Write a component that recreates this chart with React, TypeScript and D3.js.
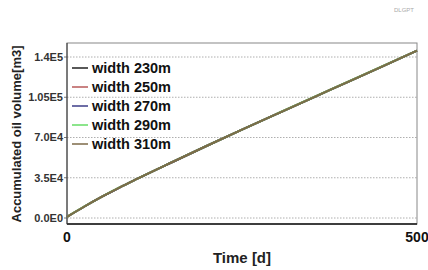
import React from 'react';
import * as d3 from 'd3';

const TIME = [0, 25, 50, 75, 100, 150, 200, 250, 300, 350, 400, 450, 500];
const W230 = [1000, 10000, 18500, 26500, 34000, 48500, 62800, 76800, 90600, 104300, 118000, 131700, 145500];
const W250 = [1000, 10050, 18550, 26550, 34050, 48550, 62850, 76850, 90650, 104350, 118050, 131750, 145550];
const W270 = [1000, 10000, 18500, 26500, 34000, 48500, 62800, 76800, 90600, 104300, 118000, 131700, 145500];
const W290 = [1000, 10050, 18550, 26550, 34050, 48550, 62850, 76850, 90650, 104350, 118050, 131750, 145550];
const W310 = [1000, 10000, 18500, 26500, 34000, 48500, 62800, 76800, 90600, 104300, 118000, 131700, 145500];

const SERIES = [
  { name: 'width 230m', color: '#222222', values: W230 },
  { name: 'width 250m', color: '#b85a5a', values: W250 },
  { name: 'width 270m', color: '#3c3c88', values: W270 },
  { name: 'width 290m', color: '#66dd66', values: W290 },
  { name: 'width 310m', color: '#7d6a48', values: W310 },
];

const Y_TICKS = [0, 35000, 70000, 105000, 140000];
const Y_LABELS = ['0.0E0', '3.5E4', '7.0E4', '1.05E5', '1.4E5'];
const X_TICKS = [0, 500];

const left = 67, right = 417, top = 43, bottom = 224;

export default function App() {
  const x = d3.scaleLinear().domain([0, 500]).range([left, right]);
  const y = d3.scaleLinear().domain([0, 140000]).range([218, 57]);
  const line = d3.line<number>()
    .x((_, i) => x(TIME[i]))
    .y(v => y(v))
    .curve(d3.curveMonotoneX);
  const font = "'Liberation Sans', Arial, sans-serif";

  return (
    <svg width={428} height={270} style={{ position: 'absolute', left: 0, top: 0 }}
      fontFamily={font}>
      <rect width={428} height={270} fill="#fff" />
      <text x={414} y={12} fontSize={6} fill="#aaa" textAnchor="end">DLGPT</text>
      {Y_TICKS.map((t, i) => (
        <g key={t}>
          <line x1={left} x2={right} y1={y(t)} y2={y(t)} stroke="#9a9a9a"
            strokeWidth={0.8} strokeDasharray="1.5 1.5" />
          <line x1={left - 3} x2={left} y1={y(t)} y2={y(t)} stroke="#555" strokeWidth={0.8} />
          <text x={63} y={y(t)} dy="0.35em" textAnchor="end" fontSize={11}
            fontWeight="bold" fill="#333">{Y_LABELS[i]}</text>
        </g>
      ))}
      <rect x={left} y={top} width={right - left} height={bottom - top}
        fill="none" stroke="#888" strokeWidth={1} />
      <line x1={left} x2={right} y1={bottom} y2={bottom} stroke="#111" strokeWidth={1.6} />
      <line x1={left} x2={left} y1={top} y2={bottom} stroke="#333" strokeWidth={1} />
      {SERIES.map(s => (
        <path key={s.name} d={line(s.values) || ''} fill="none" stroke={s.color} strokeWidth={2} />
      ))}
      {SERIES.map((s, i) => {
        const ly = 68 + i * 19;
        return (
          <g key={s.name}>
            <line x1={72} x2={88} y1={ly} y2={ly} stroke={s.color} strokeWidth={1.5} />
            <text x={92} y={ly} dy="0.36em" fontSize={14.5} fontWeight="bold" fill="#111">{s.name}</text>
          </g>
        );
      })}
      {X_TICKS.map(t => (
        <text key={t} x={x(t)} y={242} textAnchor="middle" fontSize={14} fontWeight="bold" fill="#111">{t}</text>
      ))}
      <text x={242} y={263} textAnchor="middle" fontSize={15} fontWeight="bold" fill="#222">Time [d]</text>
      <text transform="translate(21,134) rotate(-90)" textAnchor="middle" fontSize={13}
        fontWeight="bold" fill="#222">Accumulated oil volume[m3]</text>
    </svg>
  );
}
